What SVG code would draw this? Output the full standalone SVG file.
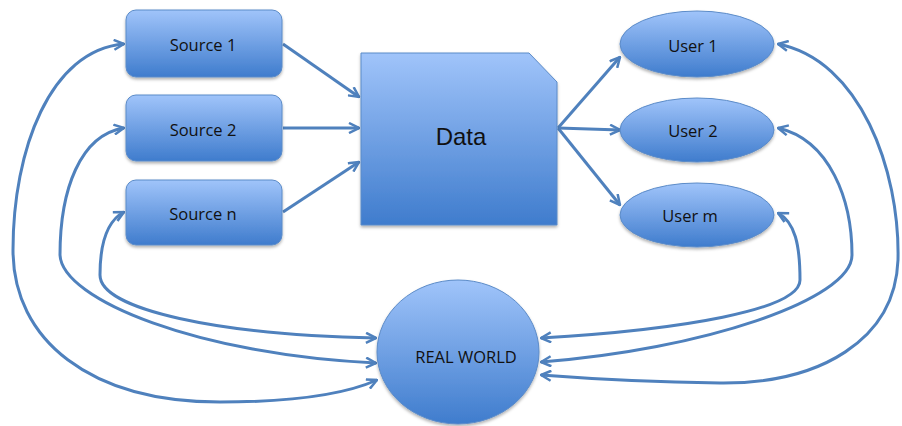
<svg xmlns="http://www.w3.org/2000/svg" width="902" height="426" viewBox="0 0 902 426">
<defs>
<linearGradient id="g" x1="0" y1="0" x2="0" y2="1">
<stop offset="0" stop-color="#a0c4fa"/>
<stop offset="1" stop-color="#3f7ccd"/>
</linearGradient>
<filter id="sh" x="-10%" y="-10%" width="130%" height="130%">
<feDropShadow dx="0" dy="2" stdDeviation="1.5" flood-color="#000" flood-opacity="0.3"/>
</filter>
<marker id="a" viewBox="0 0 12 12" refX="11" refY="6" markerWidth="12" markerHeight="12" markerUnits="userSpaceOnUse" orient="auto-start-reverse">
<path d="M1,1 L11,6 L1,11" fill="none" stroke="#4f81bd" stroke-width="2.5" stroke-linejoin="miter"/>
</marker>
</defs>
<style>
.n{fill:url(#g);stroke:#5b8bc8;stroke-width:1;filter:url(#sh)}
.t{font-family:"Open Sans","Liberation Sans",sans-serif;font-size:16.5px;fill:#111;text-anchor:middle;dominant-baseline:central}
.c{fill:none;stroke:#4f81bd;stroke-width:3}
</style>
<rect width="902" height="426" fill="#fff"/>
<g id="connectors">
<path class="c" marker-end="url(#a)" d="M283,44 L359,97"/>
<path class="c" marker-end="url(#a)" d="M283,128 L359,128"/>
<path class="c" marker-end="url(#a)" d="M283,212 L359,162"/>
<path class="c" marker-end="url(#a)" d="M558,128 L620,57"/>
<path class="c" marker-end="url(#a)" d="M558,128 L620,130"/>
<path class="c" marker-end="url(#a)" d="M558,128 L620,205"/>
<path class="c" marker-start="url(#a)" marker-end="url(#a)" d="M124,44 C50,50 13,150 13,250 C13,340 90,402 220,402 C300,402 350,392 377,380"/>
<path class="c" marker-start="url(#a)" marker-end="url(#a)" d="M124,128 C80,135 60,190 60,255 C62,300 200,355 376,363"/>
<path class="c" marker-start="url(#a)" marker-end="url(#a)" d="M124,212 C105,222 100,250 100,275 C100,310 220,335 376,338"/>
<path class="c" marker-start="url(#a)" marker-end="url(#a)" d="M778,44 C860,60 900,170 898,260 C895,340 820,384 720,383 C640,382 580,378 541,375"/>
<path class="c" marker-start="url(#a)" marker-end="url(#a)" d="M778,128 C830,140 852,200 852,255 C852,300 700,350 541,362"/>
<path class="c" marker-start="url(#a)" marker-end="url(#a)" d="M778,213 C795,222 800,245 800,280 C800,310 680,330 541,338"/>
</g>
<g id="source1"><rect class="n" x="126" y="10" width="156" height="67" rx="10"/><text class="t" x="203" y="44">Source 1</text></g>
<g id="source2"><rect class="n" x="126" y="95" width="156" height="66" rx="10"/><text class="t" x="203" y="129">Source 2</text></g>
<g id="sourcen"><rect class="n" x="126" y="180" width="156" height="65" rx="10"/><text class="t" x="203" y="213">Source n</text></g>
<g id="data"><path class="n" d="M361,53 L529,53 L557,82 L557,225 L361,225 Z"/><text class="t" x="461" y="136" style="font-size:24px;font-family:'Liberation Sans',Arial,sans-serif">Data</text></g>
<g id="user1"><ellipse class="n" cx="697" cy="44" rx="77" ry="33"/><text class="t" x="693" y="45">User 1</text></g>
<g id="user2"><ellipse class="n" cx="697" cy="130" rx="77" ry="32"/><text class="t" x="693" y="130">User 2</text></g>
<g id="userm"><ellipse class="n" cx="697" cy="215" rx="77" ry="32"/><text class="t" x="690" y="215">User m</text></g>
<g id="realworld"><ellipse class="n" cx="458" cy="352" rx="81" ry="72"/><text class="t" x="466" y="356">REAL WORLD</text></g>
</svg>
